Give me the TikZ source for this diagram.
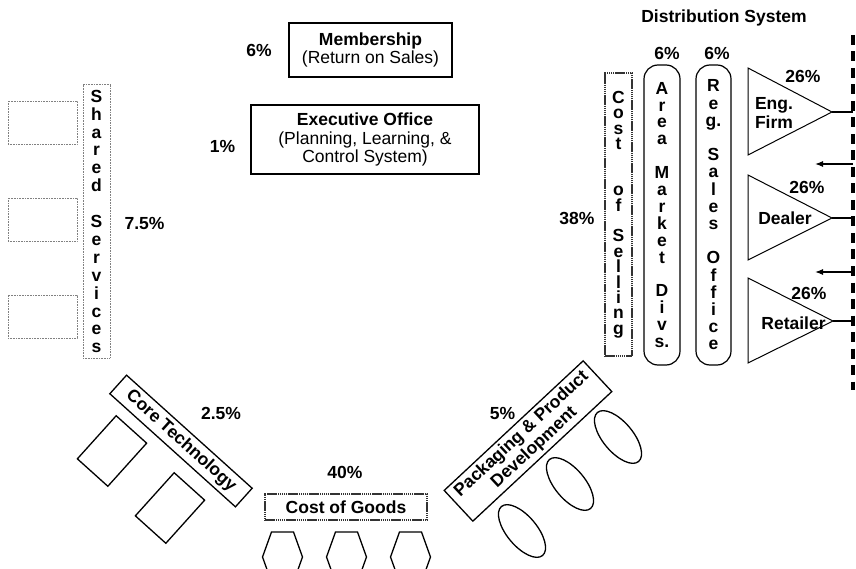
\documentclass[tikz,border=0pt]{standalone}
\usepackage{fontspec}
\setmainfont{Liberation Sans}
\usetikzlibrary{arrows.meta,shapes.geometric}
\tikzset{
  box/.style={draw=black,line width=1.3pt,inner sep=0pt},
  grain/.style={draw=black!80,line width=2.8pt,dash pattern=on 1.5pt off 0.6pt,inner sep=0pt},
  faint/.style={draw=black!50,line width=1pt,dash pattern=on 0.9pt off 0.7pt,inner sep=0pt},
  pill/.style={draw=black,line width=1.2pt,rounded corners=14pt,inner sep=0pt},
  oval/.style={draw=black,line width=1.3pt,ellipse,inner sep=0pt,minimum width=64pt,minimum height=30pt,rotate=-50},
  tri/.style={draw=black,line width=1pt},
  pct/.style={font=\bfseries\fontsize{17.5}{19}\selectfont},
  key/.style={font=\bfseries\fontsize{17.5}{18.5}\selectfont,align=center},
  plain/.style={font=\fontsize{17.5}{18.5}\selectfont,align=center},
  vtext/.style={font=\bfseries\fontsize{17.5}{17.9}\selectfont,align=center},
  rail/.style={draw=black,line width=4pt,dash pattern=on 10pt off 6.5pt},
  wire/.style={draw=black,line width=1.2pt},
  back/.style={-{Latex[length=8pt,width=6pt]},draw=black,line width=1.2pt}
}

\begin{document}
\begin{tikzpicture}[x=1pt,y=-1pt]
  \useasboundingbox (0,0) rectangle (856,569);

  % Membership and executive office.
  \node[box,plain,minimum width=163pt,minimum height=54pt] (member) at (370.5,50) {\textbf{Membership}\\(Return on Sales)};
  \node[pct] (memberpct) at (259,50) {6\%};
  \node[box,plain,minimum width=228pt,minimum height=69pt] (exec) at (365,139.5) {\textbf{Executive Office}\\(Planning, Learning, \&\\Control System)};
  \node[pct] (execpct) at (222.5,146) {1\%};

  % Shared services.
  \node[faint,minimum width=69pt,minimum height=43pt] (svc1) at (42.5,123) {};
  \node[faint,minimum width=69pt,minimum height=43pt] (svc2) at (42.5,220) {};
  \node[faint,minimum width=69pt,minimum height=43pt] (svc3) at (42.5,316.5) {};
  \node[faint,vtext,minimum width=27pt,minimum height=273pt] (shared) at (96.5,221.5)
    {S\\h\\a\\r\\e\\d\\[17.9pt]S\\e\\r\\v\\i\\c\\e\\s};
  \node[pct] (sharedpct) at (144.5,223) {7.5\%};

  % Core technology.
  \node[box,key,rotate=-42,minimum width=169pt,minimum height=25pt] (core) at (181,441) {Core Technology};
  \node[box,rotate=-42,minimum width=41pt,minimum height=58pt] (corebox1) at (112,451) {};
  \node[box,rotate=-42,minimum width=41pt,minimum height=58pt] (corebox2) at (170,508) {};
  \node[pct] (corepct) at (221,413) {2.5\%};

  % Cost of goods.
  \node[pct] (goodspct) at (345,472) {40\%};
  \node[grain,key,minimum width=162pt,minimum height=26pt] (goods) at (346,507) {Cost of Goods};
  \begin{scope}
    \clip (0,0) rectangle (856,569);
    \draw[box] (271.5,532) -- (293.5,532) -- (302.5,557) -- (293.5,582) -- (271.5,582) -- (262.5,557) -- cycle;
    \draw[box] (335.5,532) -- (357.5,532) -- (366.5,557) -- (357.5,582) -- (335.5,582) -- (326.5,557) -- cycle;
    \draw[box] (399.5,532) -- (421.5,532) -- (430.5,557) -- (421.5,582) -- (399.5,582) -- (390.5,557) -- cycle;
  \end{scope}

  % Packaging and product development.
  \node[box,key,rotate=43,minimum width=190pt,minimum height=42pt] (pack) at (528,441) {Packaging \& Product\\Development};
  \node[pct] (packpct) at (502.5,413) {5\%};
  \node[oval] (pod1) at (522,531) {};
  \node[oval] (pod2) at (570,484) {};
  \node[oval] (pod3) at (618,437) {};

  % Cost of selling.
  \node[pct] (sellpct) at (577,218) {38\%};
  \node[grain,vtext,font=\bfseries\fontsize{17.5}{15.4}\selectfont,minimum width=27pt,minimum height=283pt] (sell) at (618.5,214.5)
    {C\\o\\s\\t\\[30.8pt]o\\f\\[15.4pt]S\\e\\l\\l\\i\\n\\g};
  \node[pill,vtext,font=\bfseries\fontsize{17.5}{16.9}\selectfont,minimum width=36pt,minimum height=300pt] (area) at (662,215)
    {A\\r\\e\\a\\[16.9pt]M\\a\\r\\k\\e\\t\\[16.9pt]D\\i\\v\\s.};
  \node[pct] (areapct) at (667,53) {6\%};
  \node[pill,vtext,font=\bfseries\fontsize{17.5}{17.2}\selectfont,minimum width=35pt,minimum height=300pt] (reg) at (713.5,215)
    {R\\e\\g.\\[17.2pt]S\\a\\l\\e\\s\\[17.2pt]O\\f\\f\\i\\c\\e};
  \node[pct] (regpct) at (717,53) {6\%};

  % Distribution system.
  \node[key] (dist) at (724,18) {Distribution System};
  \coordinate (railtop) at (853,35);
  \coordinate (railbot) at (853,390);
  \draw[rail] (railtop) -- (railbot);

  \coordinate (engtip) at (832,112);
  \draw[tri] (748,68) -- (engtip) -- (748,155) -- cycle;
  \node[key,align=left] (eng) at (774,113) {Eng.\\Firm};
  \node[pct] (engpct) at (803,76) {26\%};
  \draw[wire] (engtip) -- (engtip -| railtop);

  \coordinate (back1) at (815,164);
  \draw[back] (back1 -| railtop) -- (back1);

  \coordinate (dealtip) at (832,218);
  \draw[tri] (748,175) -- (dealtip) -- (748,260) -- cycle;
  \node[key] (deal) at (785,218) {Dealer};
  \node[pct] (dealpct) at (807,187) {26\%};
  \draw[wire] (dealtip) -- (dealtip -| railtop);

  \coordinate (back2) at (815,272);
  \draw[back] (back2 -| railtop) -- (back2);

  \coordinate (retailtip) at (833,321);
  \draw[tri] (748,278) -- (retailtip) -- (748,363) -- cycle;
  \node[key] (retail) at (793.5,323) {Retailer};
  \node[pct] (retailpct) at (809,293) {26\%};
  \draw[wire] (retailtip) -- (retailtip -| railtop);
\end{tikzpicture}
\end{document}
